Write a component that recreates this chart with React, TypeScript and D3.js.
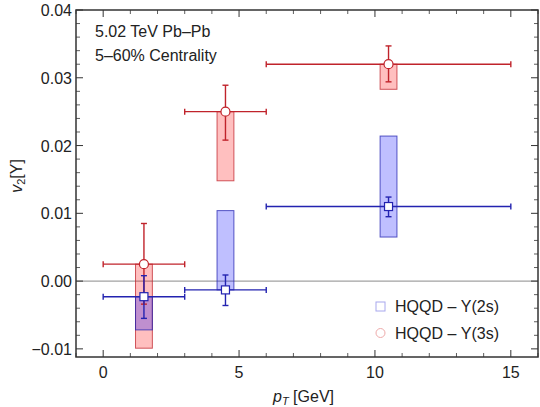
import React from "react";
import * as d3 from "d3";

// Υ(3s) series
const ptCenter3s = [1.5, 4.5, 10.5];
const ptLow3s = [0, 3, 6];
const ptHigh3s = [3, 6, 15];
const v2_3s = [0.0025, 0.025, 0.032];
const statLo3s = [-0.0034, 0.0208, 0.0294];
const statHi3s = [0.0085, 0.0289, 0.0347];
const sysLo3s = [-0.0099, 0.0148, 0.0283];
const sysHi3s = [0.0025, 0.025, 0.032];

// Υ(2s) series
const ptCenter2s = [1.5, 4.5, 10.5];
const ptLow2s = [0, 3, 6];
const ptHigh2s = [3, 6, 15];
const v2_2s = [-0.0023, -0.0013, 0.011];
const statLo2s = [-0.0055, -0.0036, 0.0095];
const statHi2s = [0.0008, 0.0009, 0.0124];
const sysLo2s = [-0.0072, -0.0013, 0.0065];
const sysHi2s = [-0.0023, 0.0104, 0.0214];

const xTicks = [0, 5, 10, 15];
const xTickLabels = ["0", "5", "10", "15"];
const yTicks = [-0.01, 0, 0.01, 0.02, 0.03, 0.04];
const yTickLabels = ["\u22120.01", "0.00", "0.01", "0.02", "0.03", "0.04"];

const legendLabels = ["HQQD \u2013 \u03A5(2s)", "HQQD \u2013 \u03A5(3s)"];
const annotation = ["5.02 TeV Pb\u2013Pb", "5\u201360% Centrality"];

const RED = "#c0232b";
const BLUE = "#2323b0";
const FONT = "'Liberation Sans', Arial, sans-serif";

export default function App() {
  const W = 540, H = 407;
  const left = 76, right = 538, top = 10, bottom = 357;
  const x = d3.scaleLinear().domain([-1, 16]).range([left, right]);
  const y = d3.scaleLinear().domain([-0.0112, 0.04]).range([bottom, top]);
  const boxHalf = 0.31;
  const cap = 3;

  const xMinor = d3.range(-1, 17, 1).filter((v) => !xTicks.includes(v));
  const yMinor = d3.range(-0.01, 0.0401, 0.002).filter(
    (v) => !yTicks.some((t) => Math.abs(t - v) < 1e-6)
  );

  const frameColor = "#333";

  const series = [
    {
      color: RED, fill: "rgba(255,0,0,0.25)", shape: "circle",
      c: ptCenter3s, lo: ptLow3s, hi: ptHigh3s, v: v2_3s,
      sl: statLo3s, sh: statHi3s, yl: sysLo3s, yh: sysHi3s,
    },
    {
      color: BLUE, fill: "rgba(0,0,255,0.25)", shape: "square",
      c: ptCenter2s, lo: ptLow2s, hi: ptHigh2s, v: v2_2s,
      sl: statLo2s, sh: statHi2s, yl: sysLo2s, yh: sysHi2s,
    },
  ];

  return (
    <svg width={W} height={H} style={{ position: "absolute", left: 0, top: 0, background: "#fff" }} fontFamily={FONT}>
      {/* zero line */}
      <line x1={left} x2={right} y1={y(0)} y2={y(0)} stroke="#8a8a8a" strokeWidth={1} />

      {/* systematic boxes */}
      {series.map((s, si) =>
        s.c.map((c, i) => (
          <rect key={`b${si}${i}`} x={x(c - boxHalf)} width={x(c + boxHalf) - x(c - boxHalf)}
            y={y(s.yh[i])} height={y(s.yl[i]) - y(s.yh[i])}
            fill={s.fill} stroke={s.color} strokeOpacity={0.75} strokeWidth={1} />
        ))
      )}

      {/* error bars */}
      {series.map((s, si) =>
        s.c.map((c, i) => (
          <g key={`e${si}${i}`} stroke={s.color} strokeWidth={1.4} fill="none">
            <line x1={x(s.lo[i])} x2={x(s.hi[i])} y1={y(s.v[i])} y2={y(s.v[i])} />
            <line x1={x(s.lo[i])} x2={x(s.lo[i])} y1={y(s.v[i]) - cap} y2={y(s.v[i]) + cap} />
            <line x1={x(s.hi[i])} x2={x(s.hi[i])} y1={y(s.v[i]) - cap} y2={y(s.v[i]) + cap} />
            <line x1={x(c)} x2={x(c)} y1={y(s.sl[i])} y2={y(s.sh[i])} />
            <line x1={x(c) - cap} x2={x(c) + cap} y1={y(s.sl[i])} y2={y(s.sl[i])} />
            <line x1={x(c) - cap} x2={x(c) + cap} y1={y(s.sh[i])} y2={y(s.sh[i])} />
          </g>
        ))
      )}

      {/* markers */}
      {series.map((s, si) =>
        s.c.map((c, i) =>
          s.shape === "circle" ? (
            <circle key={`m${si}${i}`} cx={x(c)} cy={y(s.v[i])} r={4.5} fill="#fff" stroke={s.color} strokeWidth={1.2} />
          ) : (
            <rect key={`m${si}${i}`} x={x(c) - 4} y={y(s.v[i]) - 4} width={8} height={8} fill="#fff" stroke={s.color} strokeWidth={1.2} />
          )
        )
      )}

      {/* frame */}
      <rect x={left} y={top} width={right - left} height={bottom - top} fill="none" stroke={frameColor} strokeWidth={1.5} />

      {/* x ticks */}
      {xTicks.map((t) => (
        <g key={`xt${t}`} stroke={frameColor} strokeWidth={1}>
          <line x1={x(t)} x2={x(t)} y1={bottom} y2={bottom - 7} />
          <line x1={x(t)} x2={x(t)} y1={top} y2={top + 7} />
        </g>
      ))}
      {xMinor.map((t) => (
        <g key={`xm${t}`} stroke={frameColor} strokeWidth={0.8}>
          <line x1={x(t)} x2={x(t)} y1={bottom} y2={bottom - 4} />
          <line x1={x(t)} x2={x(t)} y1={top} y2={top + 4} />
        </g>
      ))}
      {xTicks.map((t, i) => (
        <text key={`xl${t}`} x={x(t)} y={378} textAnchor="middle" fontSize={16} fill="#222">{xTickLabels[i]}</text>
      ))}

      {/* y ticks */}
      {yTicks.map((t) => (
        <g key={`yt${t}`} stroke={frameColor} strokeWidth={1}>
          <line x1={left} x2={left + 7} y1={y(t)} y2={y(t)} />
          <line x1={right} x2={right - 7} y1={y(t)} y2={y(t)} />
        </g>
      ))}
      {yMinor.map((t) => (
        <g key={`ym${t}`} stroke={frameColor} strokeWidth={0.8}>
          <line x1={left} x2={left + 4} y1={y(t)} y2={y(t)} />
          <line x1={right} x2={right - 4} y1={y(t)} y2={y(t)} />
        </g>
      ))}
      {yTicks.map((t, i) => (
        <text key={`yl${t}`} x={72} y={y(t) + 6} textAnchor="end" fontSize={16} fill="#222">{yTickLabels[i]}</text>
      ))}

      {/* axis labels */}
      <text x={273} y={402} fontSize={16} fill="#222">
        <tspan fontStyle="italic">p</tspan>
        <tspan fontStyle="italic" fontSize={11} dy={3}>T</tspan>
        <tspan dy={-3}> [GeV]</tspan>
      </text>
      <text transform="translate(22,176) rotate(-90)" textAnchor="middle" fontSize={16} fill="#222">
        <tspan fontStyle="italic">v</tspan>
        <tspan fontSize={11} dy={3}>2</tspan>
        <tspan dy={-3}>[{"\u03A5"}]</tspan>
      </text>

      {/* annotation */}
      {annotation.map((a, i) => (
        <text key={`an${i}`} x={95} y={37 + i * 24} fontSize={16} fill="#222">{a}</text>
      ))}

      {/* legend */}
      <rect x={376} y={302} width={9} height={9} fill="#fff" stroke="#a8a8ee" strokeWidth={1} />
      <circle cx={380.5} cy={333} r={4.5} fill="#fff" stroke="#eeaaaa" strokeWidth={1} />
      {legendLabels.map((l, i) => (
        <text key={`lg${i}`} x={395} y={312 + i * 27} fontSize={16} fill="#222">{l}</text>
      ))}
    </svg>
  );
}
